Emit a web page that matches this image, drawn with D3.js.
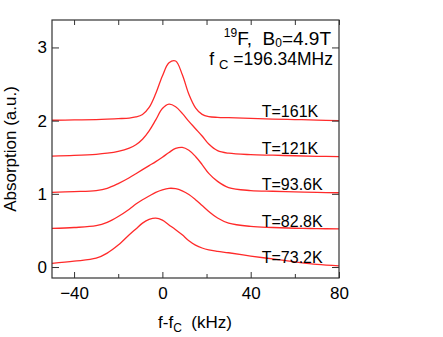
<!DOCTYPE html>
<html><head><meta charset="utf-8">
<script src="https://cdn.jsdelivr.net/npm/d3@7"></script>
<style>
body{margin:0;background:#fff;}
text{font-family:"Liberation Sans",Arial,Helvetica,sans-serif;fill:#000;}
</style></head>
<body><svg id="c" width="443" height="337"></svg>
<script>
const freq = [-50,-40,-30,-25,-20,-15,-12,-9,-6,-3,0,3,6,9,12,15,18,21,25,30,40,50,60,70,80];
const temps = ["T=161K","T=121K","T=93.6K","T=82.8K","T=73.2K"];
const offsets = [2,1.5,1,0.5,0];
const s161 = [2.005,2.01,2.015,2.02,2.027,2.035,2.05,2.085,2.18,2.37,2.61,2.79,2.815,2.63,2.36,2.175,2.085,2.055,2.045,2.04,2.03,2.022,2.015,2.008,2.0];
const s121 = [1.516,1.525,1.54,1.555,1.58,1.625,1.67,1.745,1.86,2.01,2.165,2.225,2.19,2.10,1.99,1.89,1.79,1.68,1.59,1.555,1.535,1.528,1.52,1.513,1.507];
const s936 = [1.02,1.03,1.045,1.075,1.14,1.22,1.275,1.33,1.385,1.44,1.50,1.565,1.62,1.635,1.595,1.51,1.40,1.28,1.17,1.085,1.045,1.035,1.028,1.02,1.015];
const s828 = [0.528,0.54,0.565,0.61,0.69,0.79,0.86,0.92,0.97,1.02,1.055,1.075,1.07,1.04,0.99,0.92,0.84,0.76,0.67,0.60,0.555,0.54,0.53,0.525,0.52];
const s732 = [0.05,0.08,0.12,0.19,0.30,0.44,0.52,0.60,0.65,0.668,0.64,0.575,0.51,0.44,0.36,0.30,0.26,0.235,0.215,0.195,0.15,0.11,0.07,0.035,0.015];
const series = [s161,s121,s936,s828,s732];
const xMajor = [-40,0,40,80];
const xMinor = [-20,20,60];
const yMajor = [0,1,2,3];

const svg = d3.select("#c");
const L=52,R=339,T=20,B=278;
const x = d3.scaleLinear().domain([-50,80]).range([L,R]);
const y = d3.scaleLinear().domain([-0.15,3.375]).range([B,T]);

const line = d3.line().x((d,i)=>x(freq[i])).y(d=>y(d)).curve(d3.curveCatmullRom.alpha(0.5));
svg.append("g").selectAll("path").data(series).join("path")
  .attr("d",line).attr("fill","none").attr("stroke","#ff2a2a").attr("stroke-width",1.3);

function styleAx(g){g.select(".domain").remove();g.selectAll("line").attr("stroke","#333").attr("stroke-width",1);}
svg.append("g").attr("transform",`translate(0,${B})`)
  .call(d3.axisBottom(x).tickValues(xMajor).tickSize(-6).tickPadding(9).tickFormat(d3.format("d")))
  .call(styleAx).call(g=>g.selectAll("text").attr("font-size",17).attr("font-family","Liberation Sans, Arial, sans-serif"));
svg.append("g").attr("transform",`translate(0,${B})`)
  .call(d3.axisBottom(x).tickValues(xMinor).tickSize(-4).tickFormat(""))
  .call(styleAx);
svg.append("g").attr("transform",`translate(0,${T})`)
  .call(d3.axisTop(x).tickValues(xMajor.concat(xMinor)).tickSize(-5).tickFormat(""))
  .call(styleAx);
svg.append("g").attr("transform",`translate(${L},0)`)
  .call(d3.axisLeft(y).tickValues(yMajor).tickSize(-7).tickPadding(5).tickFormat(d3.format("d")))
  .call(styleAx).call(g=>g.selectAll("text").attr("font-size",17).attr("font-family","Liberation Sans, Arial, sans-serif"));
svg.append("g").attr("transform",`translate(${R},0)`)
  .call(d3.axisRight(y).tickValues(yMajor).tickSize(-7).tickFormat(""))
  .call(styleAx);

svg.append("rect").attr("x",L).attr("y",T).attr("width",R-L).attr("height",B-T)
  .attr("fill","none").attr("stroke","#333").attr("stroke-width",1.2);

svg.append("g").selectAll("text").data(temps).join("text")
  .attr("x",x(45)).attr("y",(d,i)=>y(offsets[i]+0.05))
  .attr("font-size",16).text(d=>d);

svg.append("text").attr("transform",`translate(15.5,${(T+B)/2}) rotate(-90)`)
  .attr("text-anchor","middle").attr("font-size",17).text("Absorption (a.u.)");
const xt = svg.append("text").attr("x",(L+R)/2-0.5).attr("y",328).attr("text-anchor","middle").attr("font-size",17)
  .attr("xml:space","preserve");
xt.append("tspan").text("f-f");
xt.append("tspan").attr("font-size",12).attr("dy",4).text("C");
xt.append("tspan").attr("dy",-4).text("  (kHz)");

const a1 = svg.append("text").attr("x",331).attr("y",44.5).attr("text-anchor","end").attr("font-size",19)
  .attr("xml:space","preserve");
a1.append("tspan").attr("font-size",12).attr("dy",-8).text("19");
a1.append("tspan").attr("dy",8).text("F,  B");
a1.append("tspan").attr("font-size",12).attr("dy",2.5).text("0");
a1.append("tspan").attr("dy",-2.5).text("=4.9T");
const a2 = svg.append("text").attr("x",333).attr("y",65).attr("text-anchor","end").attr("font-size",17.5)
  .attr("xml:space","preserve");
a2.append("tspan").text("f ");
a2.append("tspan").attr("font-size",13).attr("dy",4).text("C");
a2.append("tspan").attr("dy",-4).text(" =196.34MHz");
</script></body></html>
